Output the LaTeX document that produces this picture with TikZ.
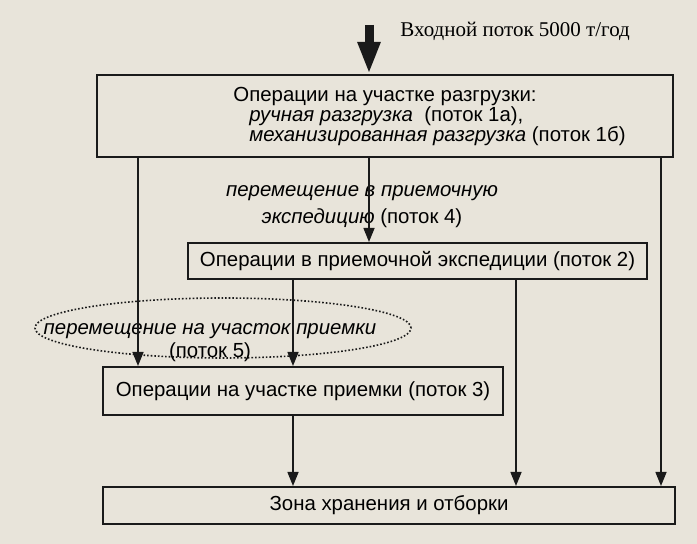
\documentclass[tikz,border=0pt]{standalone}
\usepackage{fontspec}
\setmainfont{Liberation Sans}
\newfontfamily\inflowfont{Liberation Serif}
\usepackage{xcolor}
\usepackage{tikz}
\usetikzlibrary{shapes.geometric,arrows.meta,positioning,calc}
\definecolor{paper}{HTML}{E8E4DA}
\definecolor{ink}{HTML}{1A1A1A}

\begin{document}
\begin{tikzpicture}[x=0.5pt,y=-0.5pt,
        box/.style={draw=ink, line width=1pt, inner sep=0pt, font=\fontsize{10.2}{10}\selectfont},
        flow/.style={-{Triangle[width=5.5pt,length=7pt]}, draw=ink, line width=0.75pt},
        note/.style={align=center, inner sep=0pt, font=\fontsize{10.2}{13.5}\selectfont}]
        % Paper
        \fill[paper] (0,0) rectangle (697,544);
        \useasboundingbox (0,0) rectangle (697,544);

        % Columns of the flows
        \coordinate (colA) at (138,0);
        \coordinate (colB) at (369,0);
        \coordinate (colC) at (293,0);
        \coordinate (colD) at (516,0);
        \coordinate (colE) at (661,0);

        % Unloading area
        \node[box, minimum width=288pt, minimum height=41pt] at (385,116) (unload) {};
        \node[anchor=west, align=left, inner sep=0pt, font=\fontsize{10.2}{10}\selectfont] at (233,117) (unloadtext) {Операции на участке разгрузки:\\\hspace*{8pt}\textit{ручная разгрузка}\ \ (поток 1а),\\\hspace*{8pt}\textit{механизированная разгрузка} (поток 1б)};

        % Input flow
        \coordinate (inflow) at (369,25);
        \draw[draw=ink, line width=4.5pt, -{Triangle[width=10.5pt,length=16pt]}] (inflow) -- (inflow |- unload.north);
        \node[anchor=west, inner sep=0pt, font=\inflowfont\fontsize{10.5}{12}\selectfont] at (400,31) (inflowlabel) {Входной поток 5000 т/год};

        % Receiving expedition
        \node[box, minimum width=229.5pt, minimum height=18pt] at (417.5,261) (expedit) {Операции в приемочной экспедиции (поток 2)};
        \node[note] at (362,207) (move4) {\textit{перемещение в приемочную}\\\textit{экспедицию} (поток 4)};

        % Receiving area
        \node[box, minimum width=200pt, minimum height=24pt] at (303,391) (receive) {Операции на участке приемки (поток 3)};
        \node[draw=ink, densely dotted, ellipse, line width=0.8pt, minimum width=188pt, minimum height=30pt, inner sep=0pt] at (223,328) (move5) {};
        \node[note, font=\fontsize{10.2}{11.5}\selectfont] at (210,343) (move5text) {\textit{перемещение на участок приемки}\\(поток 5)};

        % Storage
        \node[box, minimum width=286pt, minimum height=18.5pt] at (389,505.5) (storage) {Зона хранения и отборки};

        % Flows
        \draw[flow] (unload.south -| colA) -- (receive.north -| colA);
        \draw[flow] (unload.south -| colB) -- (expedit.north -| colB);
        \draw[flow] (unload.south -| colE) -- (storage.north -| colE);
        \draw[flow] (expedit.south -| colC) -- (receive.north -| colC);
        \draw[flow] (expedit.south -| colD) -- (storage.north -| colD);
        \draw[flow] (receive.south -| colC) -- (storage.north -| colC);

    \end{tikzpicture}
\end{document}
